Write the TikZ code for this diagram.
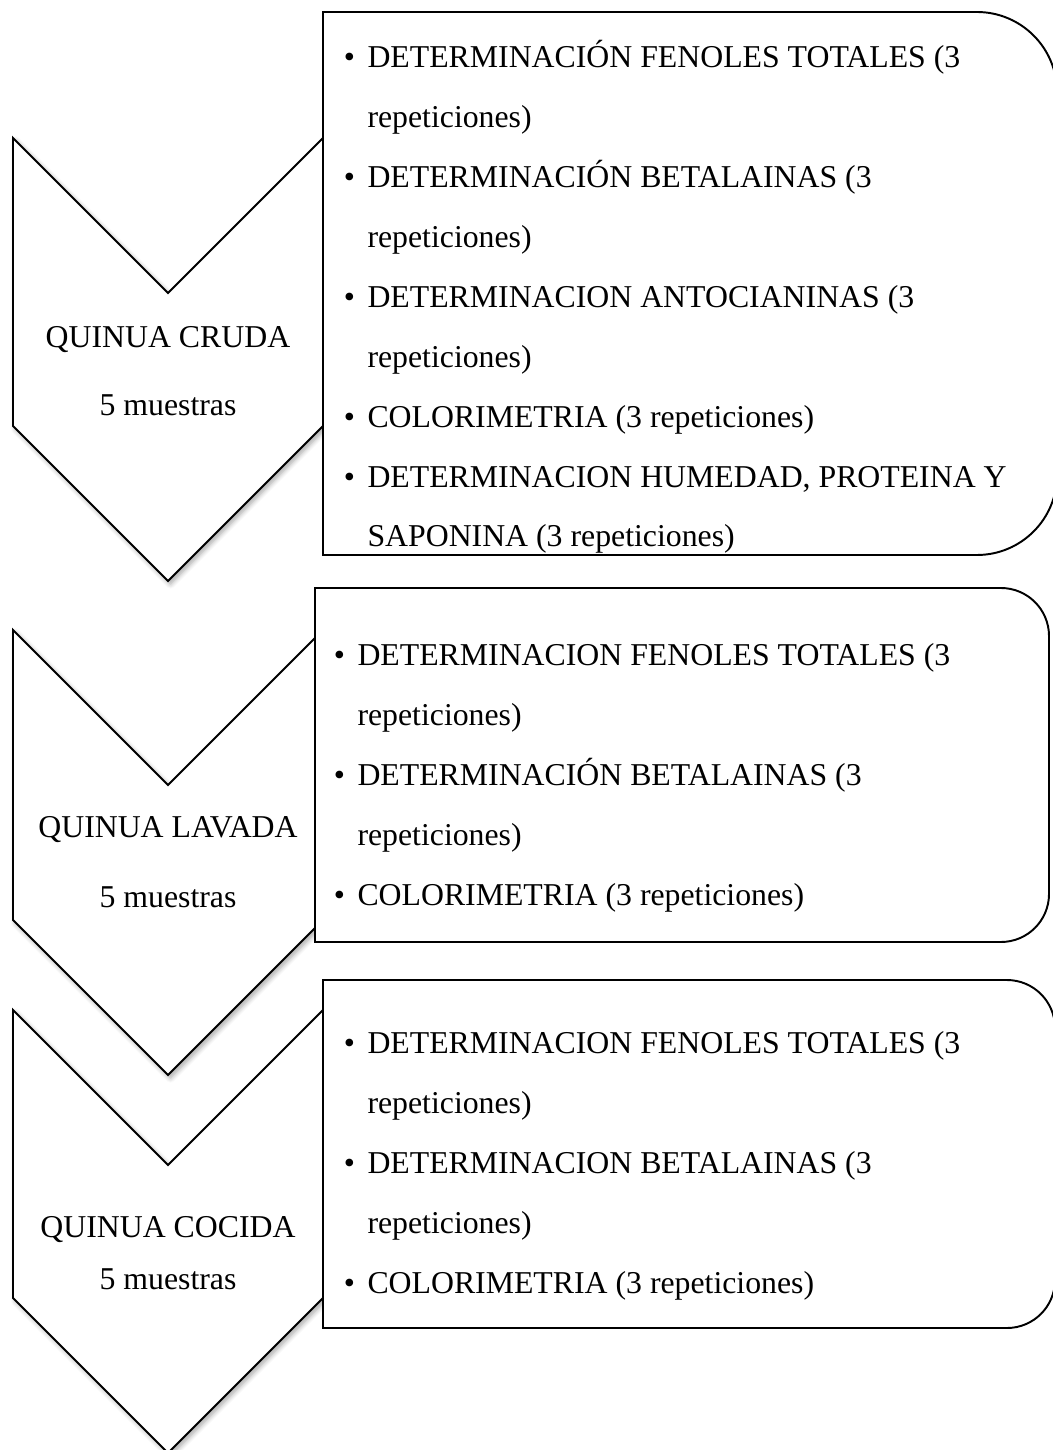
\documentclass[tikz,border=0pt]{standalone}
\usepackage{fontspec}
\setmainfont{Liberation Serif}
\usepackage{tikz}
\usetikzlibrary{positioning, shadows.blur}
\tikzstyle{chevron} = [draw, line width=0.75pt, fill=white, blur shadow={shadow xshift=1pt, shadow yshift=-1.2pt, shadow blur steps=6, shadow opacity=35}]
\newcommand{\bul}{\llap{\textbullet\hspace{4.8pt}}}

\begin{document}
\begin{tikzpicture}[
        x=0.387pt, y=-0.387pt,
        every node/.style={inner sep=0pt, font=\rmfamily\fontsize{12.3}{23.2}\selectfont},
        listbox/.style={draw, line width=0.75pt, fill=white},
        steplabel/.style={anchor=base},
        itemlist/.style={anchor=base west, align=left}
      ]
        \useasboundingbox (0,0) rectangle (1052,1450);

        % Chevrons
        \draw [chevron] (13,138) -- (168,293) -- (323,138) -- (323,426) -- (168,581) -- (13,426) -- cycle;
        \draw [chevron] (13,630) -- (168,785) -- (323,630) -- (323,920) -- (168,1075) -- (13,920) -- cycle;
        \draw [chevron] (13,1010) -- (168,1165) -- (323,1010) -- (323,1298) -- (168,1453) -- (13,1298) -- cycle;

        % Boxes
        \draw [listbox] (323,12) -- (700,12) [rounded corners=31pt] -- (1057,12) -- (1057,555) -- (700,555) [sharp corners] -- (323,555) -- cycle;
        \draw [listbox] (315,588) -- (700,588) [rounded corners=18.6pt] -- (1049,588) -- (1049,942) -- (700,942) [sharp corners] -- (315,942) -- cycle;
        \draw [listbox] (323,980) -- (700,980) [rounded corners=18.6pt] -- (1055,980) -- (1055,1328) -- (700,1328) [sharp corners] -- (323,1328) -- cycle;

        % Step labels
        \node (cruda) [steplabel] at (168,348) {QUINUA CRUDA};
        \node (cruda_n) [steplabel] at (168,416) {5 muestras};
        \node (lavada) [steplabel] at (168,837) {QUINUA LAVADA};
        \node (lavada_n) [steplabel] at (168,907) {5 muestras};
        \node (cocida) [steplabel] at (168,1237) {QUINUA COCIDA};
        \node (cocida_n) [steplabel] at (168,1289) {5 muestras};

        % Lists (anchored at the baseline of their last line)
        \node (cruda_list) [itemlist] at (367,547) {\bul DETERMINACIÓN FENOLES TOTALES (3\\
          repeticiones)\\
          \bul DETERMINACIÓN BETALAINAS (3\\
          repeticiones)\\
          \bul DETERMINACION ANTOCIANINAS (3\\
          repeticiones)\\
          \bul COLORIMETRIA (3 repeticiones)\\
          \bul DETERMINACION HUMEDAD, PROTEINA Y\\
          SAPONINA (3 repeticiones)};
        \node (lavada_list) [itemlist] at (357,905) {\bul DETERMINACION FENOLES TOTALES (3\\
          repeticiones)\\
          \bul DETERMINACIÓN BETALAINAS (3\\
          repeticiones)\\
          \bul COLORIMETRIA (3 repeticiones)};
        \node (cocida_list) [itemlist] at (367,1293) {\bul DETERMINACION FENOLES TOTALES (3\\
          repeticiones)\\
          \bul DETERMINACION BETALAINAS (3\\
          repeticiones)\\
          \bul COLORIMETRIA (3 repeticiones)};
      \end{tikzpicture}
\end{document}
